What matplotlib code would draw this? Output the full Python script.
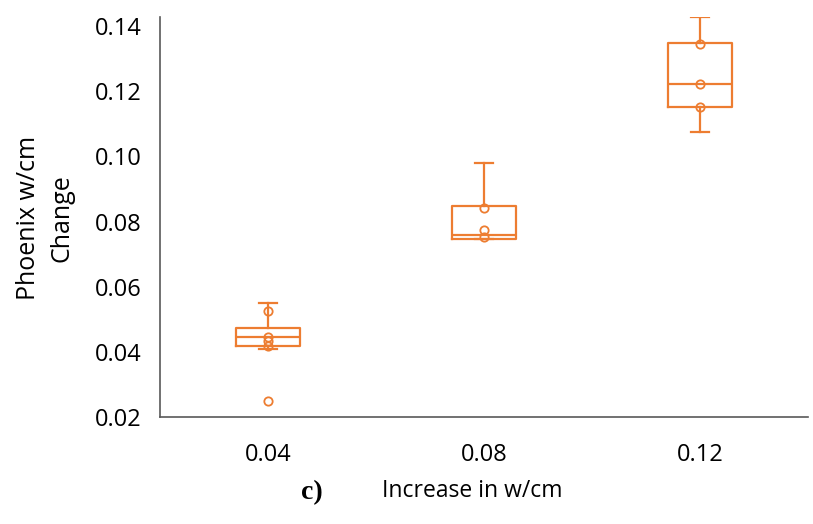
import matplotlib
matplotlib.use("Agg")
import matplotlib.pyplot as plt

plt.rcParams['font.family'] = ['Open Sans', 'DejaVu Sans']

categories = ["0.04", "0.08", "0.12"]

# five-number summaries per group
whisker_low = [0.0409, 0.0745, 0.1075]
quartile_1 = [0.0418, 0.0745, 0.1151]
medians = [0.0447, 0.0760, 0.1222]
quartile_3 = [0.0473, 0.0849, 0.1348]
whisker_high = [0.0551, 0.0980, 0.1428]
outliers = [[0.0250], [], []]

# individual observations shown inside each box
points = [
    [0.0526, 0.0447, 0.0432, 0.0418],
    [0.0842, 0.0775, 0.0753],
    [0.1345, 0.1222, 0.1153],
]

orange = "#ED7D31"
axis_grey = "#595959"

fig = plt.figure(figsize=(8.13, 5.24), dpi=100)
ax = fig.add_axes([0.1968, 0.2042, 0.797, 0.7634])

stats = []
for i, name in enumerate(categories):
    stats.append(dict(label=name, med=medians[i], q1=quartile_1[i], q3=quartile_3[i],
                      whislo=whisker_low[i], whishi=whisker_high[i], fliers=outliers[i]))

positions = list(range(1, len(categories) + 1))
line_kw = dict(color=orange, linewidth=1.6)
ax.bxp(stats, positions=positions, widths=0.3, showfliers=True,
       boxprops=line_kw, medianprops=line_kw, whiskerprops=line_kw,
       capprops=line_kw, capwidths=0.085,
       flierprops=dict(marker='o', markersize=6, markerfacecolor='none',
                       markeredgecolor=orange, markeredgewidth=1.3))

for pos, vals in zip(positions, points):
    ax.plot([pos] * len(vals), vals, linestyle='none', marker='o', markersize=6,
            markerfacecolor='none', markeredgecolor=orange, markeredgewidth=1.3)

ax.set_xlim(0.5, 3.5)
ax.set_ylim(0.02, 0.1428)
ax.set_yticks([0.02, 0.04, 0.06, 0.08, 0.10, 0.12, 0.14])
ax.set_yticklabels(["0.02", "0.04", "0.06", "0.08", "0.10", "0.12", "0.14"])
ax.set_xticks(positions)
ax.set_xticklabels(categories)
ax.tick_params(axis='both', length=0, labelsize=17, colors='black')
ax.tick_params(axis='y', pad=13)
ax.tick_params(axis='x', pad=19)

for side in ('top', 'right'):
    ax.spines[side].set_visible(False)
for side in ('left', 'bottom'):
    ax.spines[side].set_color(axis_grey)
    ax.spines[side].set_linewidth(1.2)

fig.text(0.0554, 0.584, "Phoenix w/cm\nChange", rotation=90, ha='center', va='center',
         fontsize=18, linespacing=1.42, multialignment='center')
fig.text(0.581, 0.063, "Increase in w/cm", ha='center', va='center', fontsize=16.5)
fig.text(0.384, 0.059, "c)", ha='center', va='center', fontsize=20,
         fontweight='bold', family='Liberation Serif')

fig.savefig("out.png", dpi=100)
